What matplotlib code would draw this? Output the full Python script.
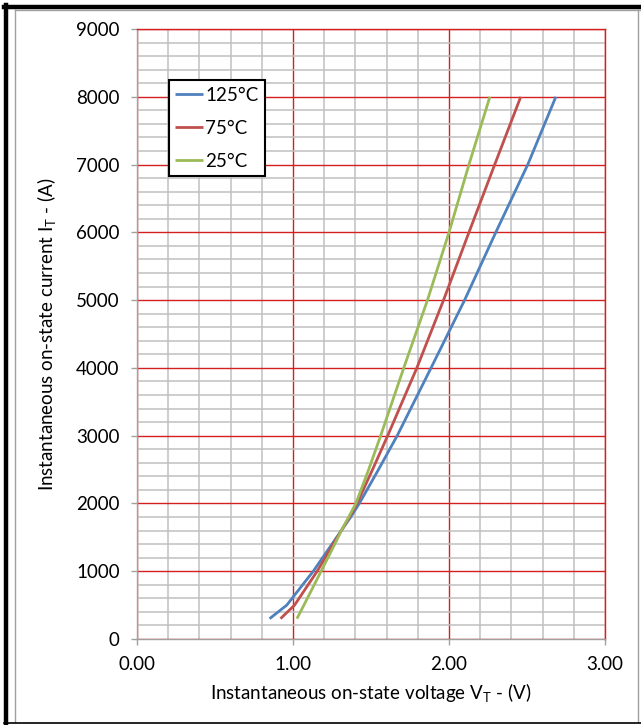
import matplotlib
matplotlib.use("Agg")
import matplotlib.pyplot as plt
from matplotlib.lines import Line2D
from matplotlib.ticker import MultipleLocator, FormatStrFormatter

plt.rcParams['font.family'] = ['Lato', 'DejaVu Sans']

# Data
current = [300, 500, 1000, 1400, 1600, 1800, 2000, 2500, 3000, 4000, 5000, 6000, 7000, 8000]
v_125 = [0.85, 0.96, 1.13, 1.25, 1.31, 1.37, 1.425, 1.548, 1.668, 1.885, 2.10, 2.30, 2.505, 2.685]
v_75 = [0.92, 1.01, 1.155, 1.258, 1.31, 1.362, 1.41, 1.51, 1.607, 1.794, 1.965, 2.128, 2.293, 2.46]
v_25 = [1.025, 1.07, 1.18, 1.268, 1.31, 1.357, 1.403, 1.485, 1.562, 1.71, 1.862, 2.0, 2.128, 2.262]
series_labels = ["125°C", "75°C", "25°C"]
colors = ["#4F81BD", "#C0504D", "#9BBB59"]

W, H = 641, 725
fig = plt.figure(figsize=(W / 100, H / 100), dpi=100)
ax = fig.add_axes([137 / W, (H - 639) / H, (605 - 137) / W, (639 - 29) / H])

for v, lab, c in zip([v_125, v_75, v_25], series_labels, colors):
    ax.plot(v, current, color=c, lw=2.0, label=lab, zorder=5,
            solid_capstyle='butt', solid_joinstyle='round')

ax.set_xlim(0, 3)
ax.set_ylim(0, 9000)
ax.xaxis.set_major_locator(MultipleLocator(1))
ax.xaxis.set_minor_locator(MultipleLocator(0.2))
ax.yaxis.set_major_locator(MultipleLocator(1000))
ax.yaxis.set_minor_locator(MultipleLocator(200))
ax.xaxis.set_major_formatter(FormatStrFormatter('%.2f'))

ax.grid(which='minor', color='#c0c0c0', lw=1.1, zorder=0)
ax.grid(which='major', color='#d42020', lw=1.0, zorder=1)
ax.set_axisbelow(True)

for s in ['top', 'right']:
    ax.spines[s].set_color('#d42020')
    ax.spines[s].set_linewidth(1.0)
for s in ['left', 'bottom']:
    ax.spines[s].set_color('#a0a0a0')
    ax.spines[s].set_linewidth(1.0)

ax.tick_params(which='major', direction='out', length=4.5, width=1, color='#a0a0a0',
               labelsize=13.5)
ax.tick_params(axis='y', pad=8)
ax.tick_params(axis='x', pad=8)
ax.tick_params(which='minor', length=0)

ax.set_xlabel(r"Instantaneous on-state voltage V$_\mathregular{T}$ - (V)", fontsize=13.5, labelpad=6)
ax.set_ylabel(r"Instantaneous on-state current I$_\mathregular{T}$ - (A)", fontsize=13.5, labelpad=12)

leg = ax.legend(loc='upper left', bbox_to_anchor=(0.068, 0.916), borderaxespad=0,
                fancybox=False, framealpha=1, edgecolor='black', fontsize=13.5,
                handlelength=1.45, handletextpad=0.15, labelspacing=0.85,
                borderpad=0.35)
leg.get_frame().set_linewidth(1.5)
leg.set_zorder(10)

# figure frame
def fx(px):
    return px / W

def fy(py):
    return 1 - py / H

fig.add_artist(Line2D([fx(15), fx(15)], [fy(10), fy(722)], color='#a0a0a0', lw=1))
fig.add_artist(Line2D([fx(15), fx(641)], [fy(10), fy(10)], color='#a0a0a0', lw=1))
fig.add_artist(Line2D([fx(638), fx(638)], [fy(10), fy(722)], color='#a0a0a0', lw=1))
fig.add_artist(Line2D([fx(6), fx(6)], [fy(5), fy(725)], color='black', lw=3.2))
fig.add_artist(Line2D([fx(4), fx(641)], [fy(7), fy(7)], color='black', lw=3.2))
fig.add_artist(Line2D([fx(4), fx(641)], [fy(723), fy(723)], color='black', lw=1.2))

fig.savefig("out.png", dpi=100)
